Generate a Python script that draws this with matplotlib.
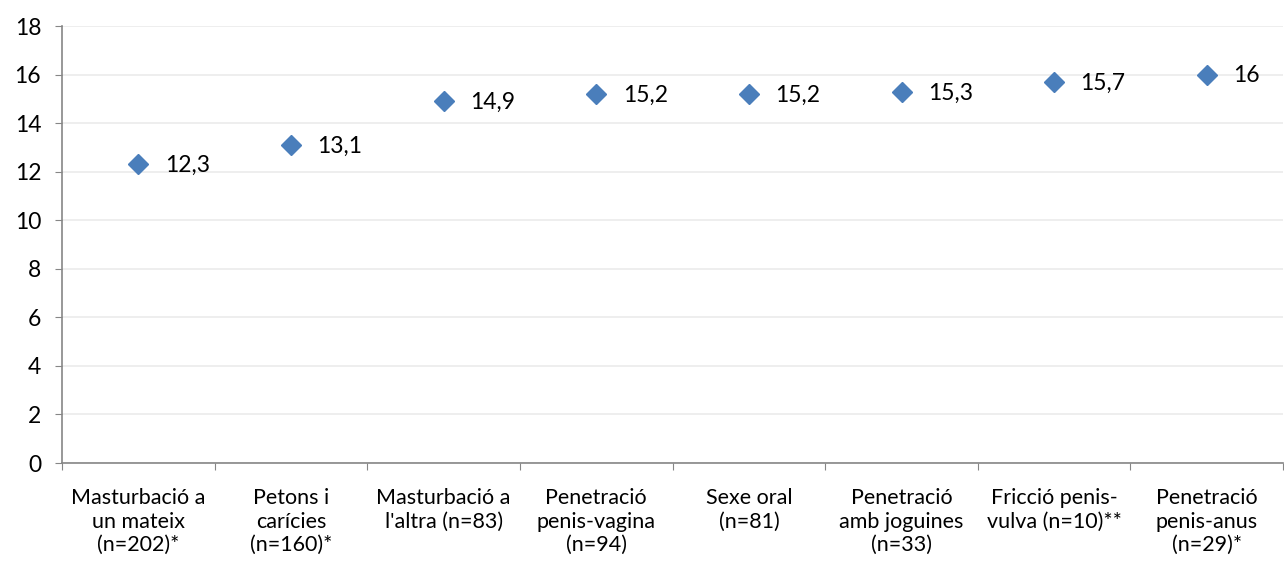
import numpy as np
import matplotlib.pyplot as plt
import matplotlib.ticker as mticker

plt.rcParams['font.family'] = ['Lato', 'DejaVu Sans']

categories = ["Masturbació a\nun mateix\n(n=202)*",
              "Petons i\ncarícies\n(n=160)*",
              "Masturbació a\nl'altra (n=83)",
              "Penetració\npenis-vagina\n(n=94)",
              "Sexe oral\n(n=81)",
              "Penetració\namb joguines\n(n=33)",
              "Fricció penis-\nvulva (n=10)**",
              "Penetració\npenis-anus\n(n=29)*"]
values = [12.3, 13.1, 14.9, 15.2, 15.2, 15.3, 15.7, 16]
value_labels = ["12,3", "13,1", "14,9", "15,2", "15,2", "15,3", "15,7", "16"]

fig = plt.figure(figsize=(12.84, 5.63), dpi=100)
ax = fig.add_axes([0.0483, 0.1776, 0.951, 0.7762])

x = np.arange(len(values))
ax.plot(x, values, linestyle='none', marker='D', markersize=10,
        color='#4a7ebb', markeredgecolor='#4a7ebb', zorder=3)

for xi, v, lab in zip(x, values, value_labels):
    ax.annotate(lab, (xi, v), xytext=(19, -1), textcoords='offset points',
                ha='left', va='center', fontsize=16.5, color='black')

ax.set_xlim(-0.5, len(values) - 0.5)
ax.set_ylim(0, 18)
ax.set_yticks(np.arange(0, 19, 2))
ax.yaxis.grid(True, color='#ebebeb', linewidth=1.2)
ax.set_axisbelow(True)

# category labels centred, ticks between categories
ax.set_xticks(np.arange(-0.5, len(values), 1))
ax.set_xticklabels([])
ax.xaxis.set_minor_locator(mticker.FixedLocator(x))
ax.set_xticklabels(categories, minor=True, fontsize=15.5, linespacing=1.22)
ax.tick_params(axis='x', which='minor', length=0, pad=18)
ax.tick_params(axis='x', which='major', length=5, color='#868686')
ax.tick_params(axis='y', length=5, color='#868686', labelsize=16.5, pad=10)

for s in ['top', 'right']:
    ax.spines[s].set_visible(False)
for s in ['left', 'bottom']:
    ax.spines[s].set_color('#868686')
    ax.spines[s].set_linewidth(1.2)

fig.savefig('out.png', dpi=100)
